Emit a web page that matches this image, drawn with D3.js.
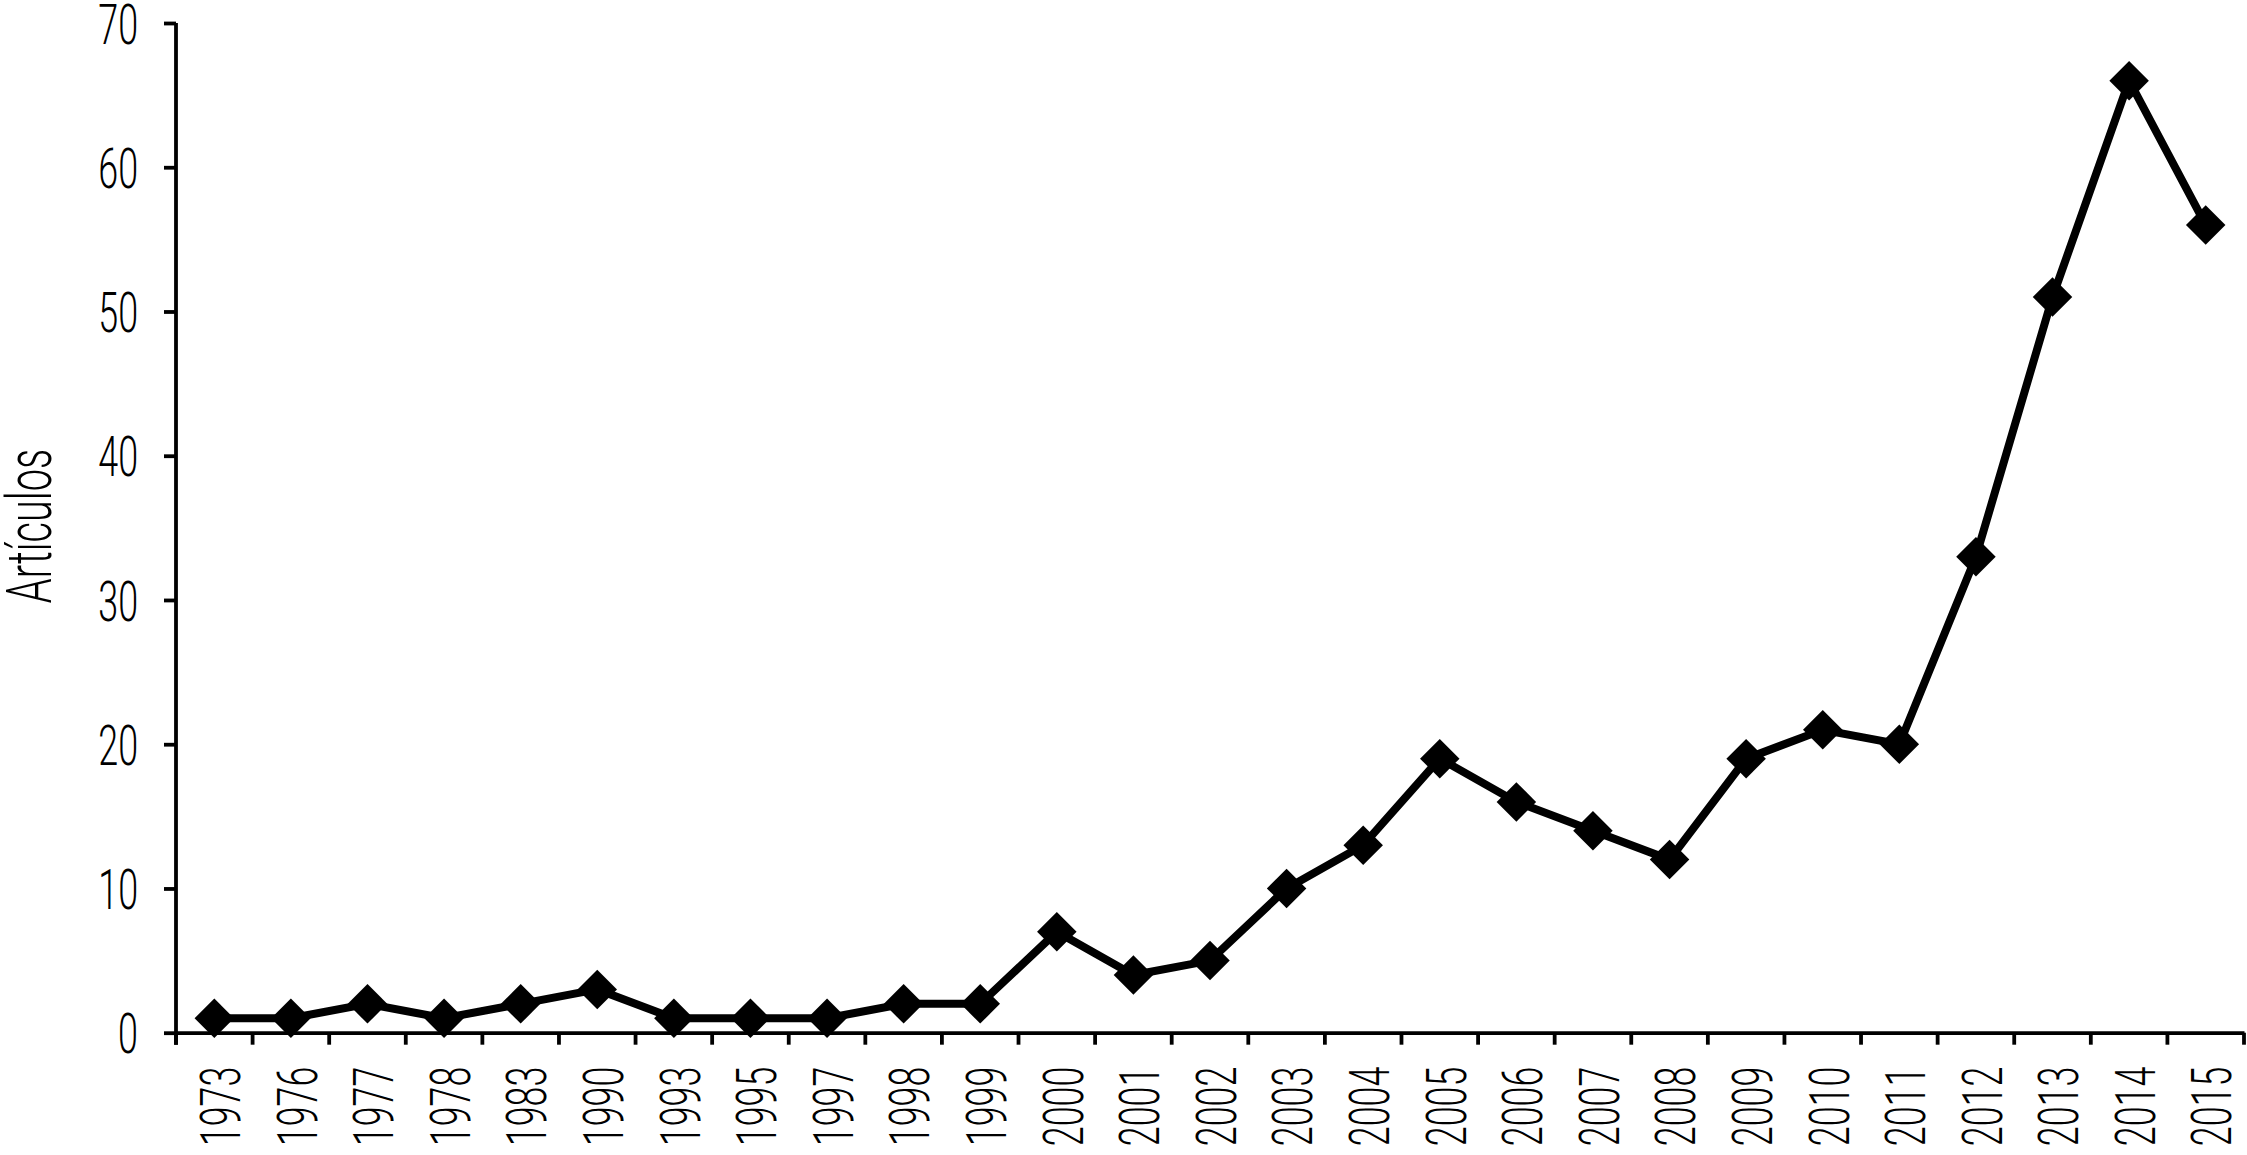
<!DOCTYPE html>
<html>
<head>
<meta charset="utf-8">
<script src="https://cdn.jsdelivr.net/npm/d3@7"></script>
<style>
  html, body { margin: 0; padding: 0; background: #fff; }
  svg { display: block; }
  text { font-family: Roboto, "Liberation Sans", "DejaVu Sans", sans-serif; font-weight: 300; fill: #000; }
</style>
</head>
<body>
<svg id="chart" width="2247" height="1155"></svg>
<script>
const years = ["1973","1976","1977","1978","1983","1990","1993","1995","1997","1998","1999",
  "2000","2001","2002","2003","2004","2005","2006","2007","2008","2009","2010","2011","2012","2013","2014","2015"];
const articulos = [1,1,2,1,2,3,1,1,1,2,2,7,4,5,10,13,19,16,14,12,19,21,20,33,51,66,56];
const yTicks = [0,10,20,30,40,50,60,70];
const yTitle = "Artículos";

const plotLeft = 176, plotRight = 2244, plotTop = 23, plotBottom = 1032.7;
const SX = 0.64;      // condensed look
const FS = 56;

const svg = d3.select("#chart");

const x = d3.scaleBand().domain(years).range([plotLeft, plotRight]).padding(0);
const y = d3.scaleLinear().domain([0, 70]).range([plotBottom, plotTop]);

// Y axis
const yAxis = svg.append("g")
  .attr("transform", `translate(${plotLeft},0)`)
  .call(d3.axisLeft(y).tickValues(yTicks).tickSize(12).tickSizeOuter(0));
yAxis.attr("font-family", null).attr("font-size", null);
yAxis.select(".domain").attr("stroke", "#000").attr("stroke-width", 3.8)
  .attr("d", `M0,${plotTop}V${plotBottom + 12}`);
yAxis.selectAll(".tick line").attr("stroke", "#000").attr("stroke-width", 3.8);
yAxis.selectAll(".tick text")
  .attr("x", null).attr("dy", "0.36em")
  .attr("text-anchor", "end")
  .attr("transform", `translate(-38,0) scale(${SX},1)`)
  .style("font-size", FS + "px");

// X axis
const xAxis = svg.append("g")
  .attr("transform", `translate(0,${plotBottom})`)
  .call(d3.axisBottom(x).tickSize(0).tickSizeOuter(0));
xAxis.attr("font-family", null).attr("font-size", null);
xAxis.select(".domain").attr("stroke", "#000").attr("stroke-width", 3.8);
xAxis.selectAll(".tick text")
  .attr("y", null).attr("dy", "0.46em")
  .attr("text-anchor", "end")
  .attr("transform", `translate(0,34) rotate(-90) scale(${SX},1)`)
  .style("font-size", FS + "px");

// Category boundary ticks (Excel style)
const bounds = d3.range(years.length + 1).map(i => x.range()[0] + i * x.step());
xAxis.append("g").selectAll("line").data(bounds).join("line")
  .attr("x1", d => d).attr("x2", d => d)
  .attr("y1", 0).attr("y2", 12)
  .attr("stroke", "#000").attr("stroke-width", 3.8);

// Y title
svg.append("text")
  .attr("transform", `translate(51,526) rotate(-90) scale(0.63,1)`)
  .attr("text-anchor", "middle")
  .style("font-size", "63px")
  .text(yTitle);

// Line
const data = years.map((yr, i) => ({ yr, v: articulos[i] }));
const line = d3.line().x(d => x(d.yr) + x.bandwidth() / 2).y(d => y(d.v));
svg.append("path").datum(data)
  .attr("d", line)
  .attr("fill", "none").attr("stroke", "#000")
  .attr("stroke-width", 8).attr("stroke-linejoin", "miter");

// Markers
const sym = d3.symbol().type(d3.symbolSquare).size(780);
svg.append("g").selectAll("path").data(data).join("path")
  .attr("d", sym)
  .attr("transform", d => `translate(${x(d.yr) + x.bandwidth() / 2},${y(d.v)}) rotate(45)`)
  .attr("fill", "#000");
</script>
</body>
</html>
